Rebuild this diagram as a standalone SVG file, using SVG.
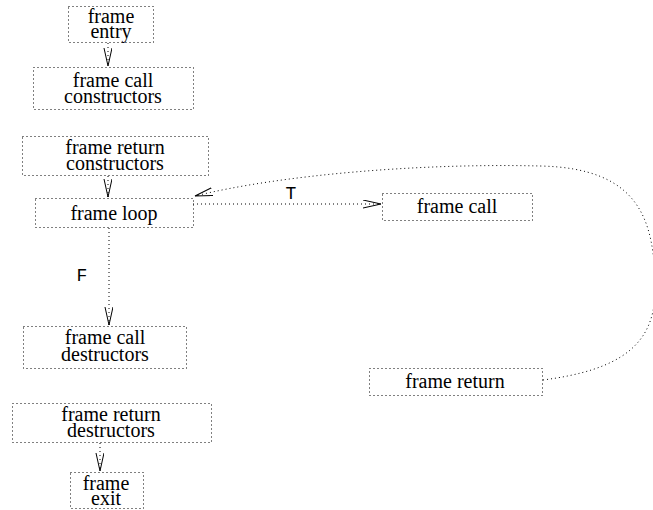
<svg xmlns="http://www.w3.org/2000/svg" width="653" height="510" viewBox="0 0 653 510">
<style>
.box{fill:none;stroke:#000;stroke-width:1;stroke-dasharray:1,3}
text.lbl{font-family:Liberation Serif,Times New Roman,serif;font-size:20px;fill:#000;text-anchor:middle}
text.mono{font-family:Liberation Mono,Courier New,monospace;font-size:18px;fill:#000;text-anchor:middle}
.edge{fill:none;stroke:#000;stroke-width:1;stroke-dasharray:1,3}
</style>
<defs>
<marker id="arr" markerUnits="userSpaceOnUse" markerWidth="20" markerHeight="10" refX="18" refY="4" orient="auto">
<path d="M0,0 L18,4 L0,8" fill="none" stroke="#000" stroke-width="1"/>
</marker>
</defs>
<g id="connectors">
<line class="edge" x1="108" y1="43" x2="108" y2="66" marker-end="url(#arr)"/>
<line class="edge" x1="108" y1="176" x2="108" y2="197" marker-end="url(#arr)"/>
<line class="edge" x1="193" y1="204" x2="381" y2="204" marker-end="url(#arr)"/>
<text class="mono" x="291" y="199">T</text>
<line class="edge" x1="109" y1="228" x2="109" y2="325" marker-end="url(#arr)"/>
<text class="mono" x="82" y="281">F</text>
<line class="edge" x1="100" y1="443" x2="100" y2="471" marker-end="url(#arr)"/>
<path class="edge" d="M543,380 C620,370 655,345 655,290 C655,220 640,168 540,166 C420,163 280,175 195,196" marker-end="url(#arr)"/>
</g>
<g id="entry"><rect class="box" x="68.5" y="6.5" width="85" height="36"/><text class="lbl" x="111" y="23">frame</text><text class="lbl" x="111" y="38">entry</text></g>
<g id="call_constructors"><rect class="box" x="33.5" y="67.5" width="160" height="42"/><text class="lbl" x="113" y="87">frame call</text><text class="lbl" x="113" y="103">constructors</text></g>
<g id="return_constructors"><rect class="box" x="22.5" y="136.5" width="186" height="39"/><text class="lbl" x="115" y="154">frame return</text><text class="lbl" x="115" y="170">constructors</text></g>
<g id="loop"><rect class="box" x="35.5" y="198.5" width="158" height="29"/><text class="lbl" x="114" y="220">frame loop</text></g>
<g id="call"><rect class="box" x="382.5" y="193.5" width="150" height="27"/><text class="lbl" x="457" y="213">frame call</text></g>
<g id="call_destructors"><rect class="box" x="23.5" y="326.5" width="163" height="42"/><text class="lbl" x="105" y="344">frame call</text><text class="lbl" x="105" y="361">destructors</text></g>
<g id="return"><rect class="box" x="369.5" y="368.5" width="173" height="27"/><text class="lbl" x="455" y="388">frame return</text></g>
<g id="return_destructors"><rect class="box" x="12.5" y="403.5" width="199" height="39"/><text class="lbl" x="111" y="421">frame return</text><text class="lbl" x="111" y="437">destructors</text></g>
<g id="exit"><rect class="box" x="70.5" y="472.5" width="73" height="36"/><text class="lbl" x="106" y="490">frame</text><text class="lbl" x="106" y="505">exit</text></g>
</svg>
